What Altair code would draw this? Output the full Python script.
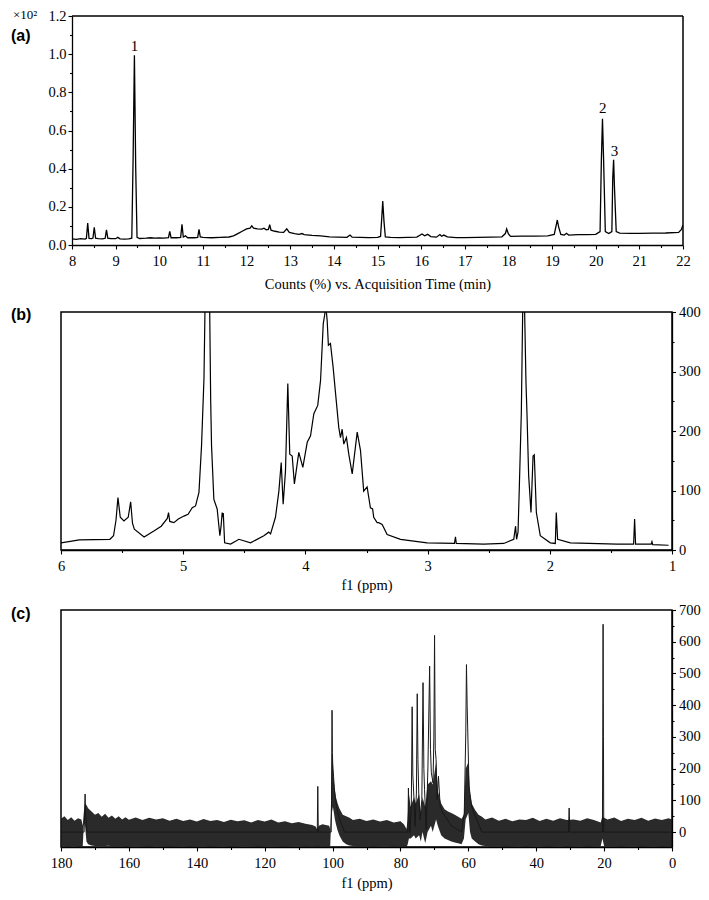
import altair as alt
import pandas as pd

# ---------------- Panel (a): GC chromatogram ----------------
A_TIME = [8.00, 8.10, 8.20, 8.30, 8.33, 8.36, 8.39, 8.45, 8.48, 8.51, 8.54, 8.60, 8.70, 8.76, 8.79, 8.82,
          8.88, 9.00, 9.05, 9.10, 9.20, 9.30, 9.37, 9.40, 9.43, 9.46, 9.49, 9.55, 9.70, 9.80, 9.90, 10.00,
          10.10, 10.21, 10.24, 10.27, 10.40, 10.49, 10.52, 10.55, 10.60, 10.65, 10.80, 10.88, 10.91, 10.94,
          11.00, 11.20, 11.40, 11.60, 11.70, 11.80, 11.90, 12.00, 12.08, 12.12, 12.16, 12.25, 12.35, 12.40,
          12.45, 12.50, 12.53, 12.56, 12.65, 12.75, 12.85, 12.92, 12.98, 13.10, 13.20, 13.27, 13.32, 13.50,
          13.70, 13.90, 14.10, 14.30, 14.37, 14.42, 14.60, 14.80, 15.00, 15.07, 15.10, 15.12, 15.15, 15.18,
          15.30, 15.50, 15.70, 15.90, 16.02, 16.08, 16.15, 16.22, 16.35, 16.43, 16.47, 16.52, 16.60, 16.80,
          17.00, 17.30, 17.60, 17.85, 17.93, 17.96, 18.00, 18.05, 18.30, 18.60, 18.90, 19.05, 19.10, 19.12,
          19.15, 19.20, 19.28, 19.33, 19.38, 19.60, 19.80, 20.00, 20.10, 20.13, 20.155, 20.18, 20.22, 20.30,
          20.37, 20.39, 20.41, 20.43, 20.47, 20.55, 20.80, 21.00, 21.30, 21.60, 21.90, 21.96, 22.00]
A_COUNTS = [0.032, 0.030, 0.033, 0.031, 0.035, 0.115, 0.035, 0.033, 0.036, 0.093, 0.036, 0.033, 0.032, 0.035, 0.080, 0.036,
            0.034, 0.033, 0.040, 0.032, 0.031, 0.032, 0.036, 0.450, 0.994, 0.400, 0.040, 0.034, 0.036, 0.038, 0.036, 0.037,
            0.036, 0.038, 0.072, 0.038, 0.038, 0.040, 0.108, 0.042, 0.048, 0.038, 0.038, 0.040, 0.082, 0.042,
            0.040, 0.038, 0.040, 0.042, 0.048, 0.060, 0.072, 0.084, 0.088, 0.100, 0.088, 0.085, 0.083, 0.088,
            0.080, 0.082, 0.107, 0.078, 0.072, 0.068, 0.066, 0.085, 0.066, 0.060, 0.056, 0.060, 0.054, 0.050,
            0.048, 0.043, 0.041, 0.040, 0.052, 0.041, 0.040, 0.039, 0.040, 0.045, 0.150, 0.231, 0.120, 0.042,
            0.040, 0.039, 0.040, 0.041, 0.058, 0.048, 0.056, 0.044, 0.041, 0.055, 0.046, 0.052, 0.043, 0.039,
            0.039, 0.040, 0.041, 0.043, 0.060, 0.084, 0.058, 0.045, 0.046, 0.046, 0.048, 0.055, 0.110, 0.131,
            0.095, 0.055, 0.052, 0.061, 0.052, 0.054, 0.054, 0.056, 0.070, 0.450, 0.661, 0.450, 0.070, 0.060,
            0.070, 0.350, 0.446, 0.300, 0.070, 0.062, 0.061, 0.061, 0.062, 0.063, 0.066, 0.080, 0.105]
A_XDOMAIN = [8, 22]
A_YDOMAIN = [0, 1.2]
A_XTICKS = [8, 8.5, 9, 9.5, 10, 10.5, 11, 11.5, 12, 12.5, 13, 13.5, 14, 14.5, 15, 15.5, 16, 16.5,
            17, 17.5, 18, 18.5, 19, 19.5, 20, 20.5, 21, 21.5, 22]
A_YTICKS = [0.0, 0.1, 0.2, 0.3, 0.4, 0.5, 0.6, 0.7, 0.8, 0.9, 1.0, 1.1, 1.2]
A_XTITLE = "Counts (%) vs. Acquisition Time (min)"
PEAK_LABELS = ["1", "2", "3"]
PEAK_T = [9.43, 20.16, 20.43]
PEAK_C = [1.042, 0.719, 0.49]

# ---------------- Panel (b): 1H NMR ----------------
B_PPM = [6.0, 5.85, 5.6, 5.57, 5.55, 5.534, 5.515, 5.485, 5.45, 5.43, 5.415, 5.40, 5.32, 5.24, 5.18,
         5.13, 5.12, 5.11, 5.076, 5.04, 4.994, 4.96, 4.926, 4.899, 4.871, 4.85, 4.83, 4.822, 4.80, 4.783,
         4.775, 4.768, 4.749, 4.722, 4.70, 4.69, 4.681, 4.676, 4.672, 4.661, 4.612, 4.544, 4.449, 4.34,
         4.30, 4.285, 4.245, 4.217, 4.198, 4.182, 4.163, 4.144, 4.128, 4.108, 4.09, 4.054, 4.021, 3.985,
         3.958, 3.931, 3.899, 3.876, 3.854, 3.841, 3.833, 3.822, 3.812, 3.795, 3.773, 3.754, 3.727, 3.713,
         3.699, 3.686, 3.664, 3.645, 3.617, 3.576, 3.549, 3.523, 3.495, 3.468, 3.45, 3.441, 3.413, 3.40,
         3.372, 3.331, 3.222, 3.004, 2.78, 2.772, 2.765, 2.541, 2.377, 2.295, 2.28, 2.272, 2.26, 2.249,
         2.233, 2.222, 2.214, 2.206, 2.195, 2.187, 2.173, 2.154, 2.137, 2.127, 2.11, 2.078, 1.996, 1.955,
         1.947, 1.936, 1.832, 1.45, 1.314, 1.306, 1.298, 1.17, 1.164, 1.158, 1.028]
B_INT = [12, 17, 18, 24, 50, 88, 55, 49, 55, 81, 45, 35, 22, 32, 40,
         53, 63, 48, 46, 52, 57, 60, 71, 74, 97, 175, 288, 400, 1200, 400,
         250, 175, 85, 69, 24, 40, 63, 55, 62, 12, 10, 18, 12, 24,
         30, 27, 55, 99, 147, 77, 133, 280, 161, 158, 111, 164, 139, 181,
         192, 229, 243, 285, 380, 397, 410, 386, 344, 347, 307, 265, 206, 189,
         203, 178, 189, 161, 128, 198, 167, 99, 106, 71, 69, 55, 46, 46,
         43, 26, 18, 12, 11, 22, 11, 10, 11, 18, 40, 18, 30, 108,
         231, 400, 1200, 400, 282, 231, 125, 63, 158, 160, 63, 24, 12, 11,
         63, 18, 12, 10, 10, 52, 10, 10, 14, 9, 8]
B_XTICKS = [1, 1.5, 2, 2.5, 3, 3.5, 4, 4.5, 5, 5.5, 6]
B_YTICKS = [0, 50, 100, 150, 200, 250, 300, 350, 400]

# ---------------- Panel (c): 13C NMR ----------------
C_NOISE_PPM = [180, 179, 178, 177, 176, 175, 174, 173.6, 173.3, 173.0, 172.5, 172, 171, 170, 169, 168,
               167, 166, 165, 164, 163, 162, 161, 160, 158, 156, 154, 152, 150, 148, 146, 144, 142,
               140, 138, 136, 134, 132, 130, 128, 126, 124, 122, 120, 118, 116, 114, 112, 110, 108,
               106, 105, 104.6, 104.0, 103, 102, 101, 100.7, 100.5, 100.2, 99.9, 99.6, 99.3, 99.0,
               98.5, 98.0, 97.5, 97.0, 96.0, 95.0, 94, 92, 90, 88, 86, 84, 82, 80, 79, 78.2, 77.9,
               77.5, 77.0, 76.0, 75.5, 74.5, 74.0, 73.5, 72.7, 72.0, 71.0, 70.5, 69.5, 69.0, 68.0,
               67.0, 66.0, 65.0, 64.0, 63.0, 62.0, 61.3, 60.8, 60.0, 59.5, 59.0, 58.0, 57.0, 56.0,
               55, 53, 51, 49, 47, 45, 43, 41, 39, 37, 35, 33, 31, 29, 27, 25, 23, 21, 20.5, 20.0,
               19, 17, 15, 13, 11, 9, 7, 5, 3, 1, 0]
C_NOISE_LO = [-45, -44, -46, -45, -44, -46, -45, -46, 20, 30, -30, -38, -42, -44, -44, -44,
              -44, -43, -45, -44, -45, -44, -46, -45, -44, -45, -46, -44, -45, -46, -45, -44, -46,
              -45, -44, -46, -45, -44, -46, -45, -44, -45, -46, -45, -44, -45, -46, -45, -44, -46,
              -45, -46, -46, -46, -45, -46, -45, -46, 10, 60, 80, 60, 40, 25,
              5, -10, -20, -30, -38, -42, -44, -45, -44, -46, -45, -44, -46, -45, -46, -46, -40,
              -20, -20, -10, -20, -10, -30, 0, -35, 0, 20, 0, 40, 20, -10,
              -20, -25, -30, -33, -35, -38, -20, 40, 60, 0, -20, -30, -38, -42,
              -44, -45, -44, -46, -45, -44, -46, -45, -44, -46, -45, -44, -46, -45, -44, -46, -45, -44, -20, -44,
              -45, -44, -46, -45, -44, -46, -45, -44, -46, -45, -44]
C_NOISE_HI = [42, 50, 38, 47, 36, 44, 40, 20, 60, 90, 85, 75, 65, 55, 60, 48,
              58, 45, 52, 42, 50, 40, 47, 39, 46, 38, 45, 40, 44, 36, 42, 35, 40,
              33, 41, 35, 38, 32, 39, 34, 37, 30, 38, 33, 40, 30, 34, 28, 32, 26,
              22, 18, 10, 20, 25, 22, 20, 10, 60, 250, 220, 160, 130, 110,
              90, 75, 65, 55, 50, 45, 38, 42, 35, 40, 33, 38, 30, 34, 25, 10, 40,
              120, 80, 110, 90, 120, 60, 110, 80, 150, 160, 150, 220, 130, 90,
              72, 65, 60, 55, 48, 42, 55, 200, 220, 120, 90, 70, 55, 48,
              40, 46, 36, 42, 34, 40, 38, 45, 35, 42, 36, 44, 38, 40, 36, 44, 38, 30, 50, 45,
              40, 46, 35, 42, 38, 45, 36, 43, 38, 44, 40]
C_PEAK_PPM = [180, 173.2, 173.0, 172.9, 172.8, 172.6, 172.3, 104.5, 104.35, 104.2, 100.4, 100.3, 100.15,
              100.05, 99.9, 99.7, 99.5, 99.2, 98.8, 98.3, 97.5, 96.5, 77.8, 77.65, 77.5, 77.2, 76.8,
              76.55, 76.35, 76.0, 75.7, 75.3, 75.05, 74.85, 74.6, 74.2, 73.7, 73.35, 73.1, 72.9, 72.4,
              71.9, 71.4, 71.15, 70.9, 70.4, 70.15, 69.95, 69.75, 69.5, 69.2, 68.8, 68.3, 67.5, 66.8,
              65, 62, 61.2, 60.75, 60.55, 60.35, 60.2, 59.8, 59.0, 58.0, 57.5, 56, 30.5, 30.3, 30.1,
              20.5, 20.4, 20.3, 20.2, 20.1, 0]
C_PEAK_VAL = [0, 0, 70, 120, 60, 40, 0, 0, 144, 0, 0, 100, 384,
              250, 200, 175, 140, 110, 80, 55, 30, 0, 0, 139, 60, -3, 80,
              395, 180, 102, 18, 123, 436, 229, 120, 39, 102, 471, 200, 134, 8,
              208, 523, 260, 187, 155, 300, 620, 260, 229, 102, 176, 81, 60, 49,
              20, 0, 60, 313, 528, 400, 334, 144, 81, 50, 39, 0, 0, 76, 0,
              0, 300, 655, 300, 0, 0]
C_XTICKS = [0, 10, 20, 30, 40, 50, 60, 70, 80, 90, 100, 110, 120, 130, 140, 150, 160, 170, 180]
C_YTICKS = [0, 50, 100, 150, 200, 250, 300, 350, 400, 450, 500, 550, 600, 650, 700]

SERIF = "Liberation Serif"
SANS = "Liberation Sans"
W = 611          # plot width of every panel
SHIFT_A = 11     # panel (a) plot starts this much further right


def mk_axis(values, major_test, orient, title=None, fmt=None, label_pad=3, title_pad=6,
            major=4, minor=2.5, offset=0):
    kw = dict(values=values, orient=orient,
              labelExpr="(" + major_test + ") ? datum.label : ''",
              tickSize={"condition": {"test": major_test, "value": major}, "value": minor},
              labelPadding=label_pad, labelFlush=False, labelOverlap=False, grid=False,
              title=title, offset=offset)
    if title:
        kw["titlePadding"] = title_pad
    if fmt:
        kw["format"] = fmt
    return alt.Axis(**kw)


def bounds_rule(top, bottom):
    # invisible guide that fixes the vertical extent used by the concat layout
    return alt.Chart(pd.DataFrame({"k": [0]})).mark_rule(opacity=0, strokeOpacity=0).encode(
        x=alt.value(0), y=alt.value(top), y2=alt.value(bottom))


def tag(label, dx, dy):
    return alt.Chart(pd.DataFrame({"lab": [label]})).mark_text(
        font=SANS, fontSize=16, fontWeight="bold", align="left", baseline="middle", color="black"
    ).encode(x=alt.value(dx), y=alt.value(dy), text="lab:N")


# ----- panel (a)
HA = 229
a_df = pd.DataFrame({"t": A_TIME, "c": A_COUNTS})
xa = alt.X("t:Q", scale=alt.Scale(domain=A_XDOMAIN, range=[SHIFT_A, SHIFT_A + W], nice=False, zero=False),
           axis=mk_axis(A_XTICKS, "datum.value % 1 === 0", "bottom", title=A_XTITLE,
                        fmt=".0f", label_pad=5, title_pad=10))
ya = alt.Y("c:Q", scale=alt.Scale(domain=A_YDOMAIN, nice=False, zero=False),
           axis=mk_axis(A_YTICKS, "abs(datum.value*5 - round(datum.value*5)) < 0.001", "left",
                        fmt=".1f", label_pad=2, offset=-SHIFT_A))
a_line = alt.Chart(a_df).mark_line(color="black", strokeWidth=1.3, clip=True).encode(x=xa, y=ya)
a_top = alt.Chart(pd.DataFrame({"t": [A_XDOMAIN[0]], "t2": [A_XDOMAIN[1]], "c": [A_YDOMAIN[1]]})).mark_rule(
    color="black", strokeWidth=1.5).encode(x=xa, x2="t2:Q", y=ya)
a_right = alt.Chart(pd.DataFrame({"t": [A_XDOMAIN[1]], "c": [A_YDOMAIN[0]], "c2": [A_YDOMAIN[1]]})).mark_rule(
    color="black", strokeWidth=1.5).encode(x=xa, y=ya, y2="c2:Q")
a_peaks = alt.Chart(pd.DataFrame({"t": PEAK_T, "c": PEAK_C, "lab": PEAK_LABELS})).mark_text(
    font=SERIF, fontSize=15, baseline="middle", color="black").encode(x=xa, y=ya, text="lab:N")
a_exp = alt.Chart(pd.DataFrame({"lab": ["×10²"]})).mark_text(
    font=SERIF, fontSize=13, align="left", baseline="alphabetic", color="black"
).encode(x=alt.value(-48), y=alt.value(3), text="lab:N")
panel_a = alt.layer(a_line, a_top, a_right, a_peaks, tag("(a)", -50, 20), a_exp,
                    bounds_rule(0, HA + 50)).properties(
    width=W + SHIFT_A, height=HA, view=alt.ViewBackground(strokeOpacity=0))

# ----- panel (b)
HB = 238
b_df = pd.DataFrame({"p": B_PPM, "v": B_INT})
xb = alt.X("p:Q", scale=alt.Scale(domain=[1, 6], reverse=True, nice=False, zero=False),
           axis=mk_axis(B_XTICKS, "datum.value % 1 === 0", "bottom", title="f1 (ppm)",
                        fmt=".0f", label_pad=5, title_pad=6))
yb = alt.Y("v:Q", scale=alt.Scale(domain=[0, 400], nice=False, zero=False),
           axis=mk_axis(B_YTICKS, "datum.value % 100 === 0", "right", label_pad=3,
                        major=3.5, minor=2))
b_line = alt.Chart(b_df).mark_line(color="black", strokeWidth=1.2, clip=True).encode(x=xb, y=yb)
panel_b = alt.layer(b_line, tag("(b)", -50, 3), bounds_rule(-9, HB + 47)).properties(width=W, height=HB)

# ----- panel (c)
HC = 237
cn_df = pd.DataFrame({"p": C_NOISE_PPM, "lo": C_NOISE_LO, "hi": C_NOISE_HI})
cp_df = pd.DataFrame({"p": C_PEAK_PPM, "lo": C_PEAK_VAL})
xc = alt.X("p:Q", scale=alt.Scale(domain=[0, 180], reverse=True, nice=False, zero=False),
           axis=mk_axis(C_XTICKS, "datum.value % 20 === 0", "bottom", title="f1 (ppm)",
                        fmt=".0f", label_pad=5, title_pad=7))
yc = alt.Y("lo:Q", scale=alt.Scale(domain=[-47, 700], nice=False, zero=False),
           axis=mk_axis(C_YTICKS, "datum.value % 100 === 0", "right", label_pad=3,
                        major=3.5, minor=2))
c_noise = alt.Chart(cn_df).mark_area(color="#181818", opacity=0.92, clip=True).encode(
    x=xc, y=yc, y2="hi:Q")
c_line = alt.Chart(cp_df).mark_line(color="#181818", strokeWidth=1.0, clip=True).encode(x=xc, y=yc)
panel_c = alt.layer(c_noise, c_line, tag("(c)", -50, 4), bounds_rule(-9, HC + 50)).properties(
    width=W, height=HC)

bc = alt.vconcat(panel_b, panel_c, spacing=2)
chart = alt.vconcat(panel_a, bc, spacing=7).properties(
    padding={"left": 2, "top": 0, "right": 0, "bottom": 2}
).configure_view(stroke="black", strokeWidth=1.5).configure_axis(
    labelFont=SERIF, labelFontSize=14.5, labelColor="black",
    titleFont=SERIF, titleFontSize=14.5, titleFontWeight="normal", titleColor="black",
    domainColor="black", domainWidth=1.3, tickColor="black", tickWidth=1.1
)

chart.save("out.html", embed_options={"renderer": "svg", "actions": False})
